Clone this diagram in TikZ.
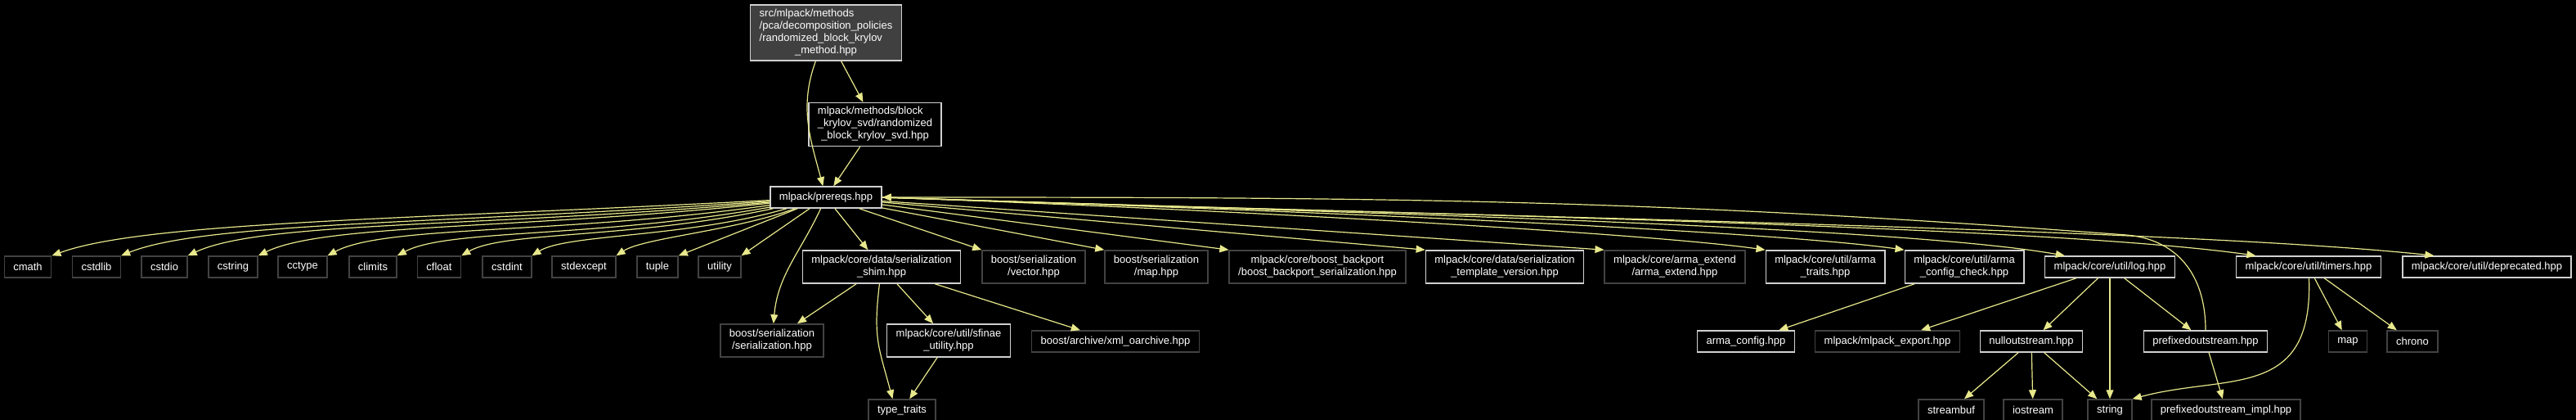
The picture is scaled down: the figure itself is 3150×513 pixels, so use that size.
\documentclass[tikz,border=0pt]{standalone}
\usepackage{fontspec}
\setmainfont{Liberation Sans}
\usepackage{xcolor}
\usetikzlibrary{arrows.meta}
\definecolor{edgecol}{HTML}{E8E88C}
\definecolor{rootfill}{HTML}{404040}
\definecolor{docline}{HTML}{D0D0D0}
\definecolor{extline}{HTML}{424242}

\begin{document}
\begin{tikzpicture}[x=1pt, y=-1pt,
    fnode/.style={draw=docline, line width=1.5pt, fill=black, text=white, inner xsep=11pt,
                  inner ysep=6.5pt, minimum height=26pt, align=center,
                  font=\fontsize{13}{15}\selectfont},
    ext/.style={fnode, draw=extline},
    root/.style={fnode, fill=rootfill, inner ysep=4pt},
    edge/.style={-{Triangle[length=11pt, width=9pt]}, draw=edgecol, line width=1.2pt}
  ]
  \useasboundingbox[fill=black] (0,0) rectangle (3150,513);

  % ---------------- top of the graph ----------------
  \node[root] (top) at (1010,40)
    {\begin{tabular}{@{}l@{}}src/mlpack/methods\\/pca/decomposition\_policies\\/randomized\_block\_krylov\\\multicolumn{1}{@{}c@{}}{\_method.hpp}\end{tabular}};
  \node[fnode, inner ysep=4pt] (svd) at (1070,152)
    {\begin{tabular}{@{}l@{}}mlpack/methods/block\\\_krylov\_svd/randomized\\\multicolumn{1}{@{}c@{}}{\_block\_krylov\_svd.hpp}\end{tabular}};
  \node[fnode] (pre) at (1010,241) {mlpack/prereqs.hpp};

  \draw[edge] (top) to[out=-110, in=105] (pre);
  \draw[edge] (top) -- (svd);
  \draw[edge] (svd) -- (pre);

  % ---------------- first row ----------------
  \node[ext]   (cmath)     at (34,326)   {cmath};
  \node[ext]   (cstdlib)   at (118,326)  {cstdlib};
  \node[ext]   (cstdio)    at (201,326)  {cstdio};
  \node[ext]   (cstring)   at (285,326)  {cstring};
  \node[ext]   (cctype)    at (370,326)  {cctype};
  \node[ext]   (climits)   at (456,326)  {climits};
  \node[ext]   (cfloat)    at (537,326)  {cfloat};
  \node[ext]   (cstdint)   at (620,326)  {cstdint};
  \node[ext]   (stdexc)    at (714,326)  {stdexcept};
  \node[ext]   (tuple)     at (804,326)  {tuple};
  \node[ext]   (utility)   at (880,326)  {utility};
  \node[fnode] (shim)      at (1078,326) {mlpack/core/data/serialization\\\_shim.hpp};
  \node[ext]   (bvec)      at (1264,326) {boost/serialization\\/vector.hpp};
  \node[ext]   (bmap)      at (1414,326) {boost/serialization\\/map.hpp};
  \node[ext]   (backport)  at (1611,326) {mlpack/core/boost\_backport\\/boost\_backport\_serialization.hpp};
  \node[fnode] (tmplver)   at (1840,326) {mlpack/core/data/serialization\\\_template\_version.hpp};
  \node[ext]   (armaext)   at (2048,326) {mlpack/core/arma\_extend\\/arma\_extend.hpp};
  \node[fnode] (armatr)    at (2232,326) {mlpack/core/util/arma\\\_traits.hpp};
  \node[fnode] (armachk)   at (2402,326) {mlpack/core/util/arma\\\_config\_check.hpp};
  \node[fnode] (log)       at (2580,326) {mlpack/core/util/log.hpp};
  \node[fnode] (timers)    at (2823,326) {mlpack/core/util/timers.hpp};
  \node[fnode] (deprec)    at (3041,326) {mlpack/core/util/deprecated.hpp};

  % ---------------- lower rows ----------------
  \node[ext]   (bser)      at (944,416)  {boost/serialization\\/serialization.hpp};
  \node[fnode] (sfinae)    at (1160,416) {mlpack/core/util/sfinae\\\_utility.hpp};
  \node[ext]   (xmlarch)   at (1364,417) {boost/archive/xml\_oarchive.hpp};
  \node[ext]   (typetr)    at (1103,501) {type\_traits};
  \node[fnode] (armacfg)   at (2135,417) {arma\_config.hpp};
  \node[ext]   (mlexp)     at (2308,417) {mlpack/mlpack\_export.hpp};
  \node[fnode] (nullout)   at (2484,417) {nulloutstream.hpp};
  \node[fnode] (pfxout)    at (2697,417) {prefixedoutstream.hpp};
  \node[ext]   (smap)      at (2871,417) {map};
  \node[ext]   (chrono)    at (2950,417) {chrono};
  \node[ext]   (streambuf) at (2386,501) {streambuf};
  \node[ext]   (iostream)  at (2486,501) {iostream};
  \node[ext]   (string)    at (2580,501) {string};
  \node[ext]   (pfximpl)   at (2722,501) {prefixedoutstream\_impl.hpp};

  % prereqs, left fan
  \draw[edge] (pre) to[out=183, in=20, out distance=450pt, in distance=120pt] (cmath.north east);
  \draw[edge] (pre) to[out=184, in=22, out distance=400pt, in distance=110pt] (cstdlib.north east);
  \draw[edge] (pre) to[out=185, in=25, out distance=360pt, in distance=100pt] (cstdio.north east);
  \draw[edge] (pre) to[out=186, in=26, out distance=310pt, in distance=90pt] (cstring.north east);
  \draw[edge] (pre) to[out=188, in=28, out distance=260pt, in distance=80pt] (cctype.north east);
  \draw[edge] (pre) to[out=190, in=28, out distance=220pt, in distance=70pt] (climits.north east);
  \draw[edge] (pre) to[out=192, in=30, out distance=180pt, in distance=60pt] (cfloat.north east);
  \draw[edge] (pre) to[out=196, in=32, out distance=130pt, in distance=50pt] (cstdint.north east);
  \draw[edge] (pre) to[out=200, in=33, out distance=80pt, in distance=40pt] (stdexc.north east);
  \draw[edge] (pre) -- (tuple.north east);
  \draw[edge] (pre) -- (utility.north east);
  \draw[edge] (pre) to[out=-115, in=85] (bser);

  % prereqs, right fan
  \draw[edge] (pre) -- (shim);
  \draw[edge] (pre) -- (bvec.north west);
  \draw[edge] (pre) -- (bmap.north west);
  \draw[edge] (pre) -- (backport.north west);
  \draw[edge] (pre) -- (tmplver.north west);
  \draw[edge] (pre) -- (armaext.north west);
  \draw[edge] (pre.east) .. controls +(400,14) and +(-150,-21) .. (armatr.north west);
  \draw[edge] (pre.east) .. controls +(450,14) and +(-180,-25) .. (armachk.north west);
  \draw[edge] (pre.east) .. controls +(500,17) and +(-217,-38) .. (log.166);
  \draw[edge] (pre.east) .. controls +(550,19) and +(-277,-39) .. (timers.168);
  \draw[edge] (pre.east) .. controls +(600,21) and +(-328,-35) .. (deprec.168);

  % serialization shim
  \draw[edge] (shim) -- (bser);
  \draw[edge] (shim) to[out=-97, in=105, looseness=1.2] (typetr.130);
  \draw[edge] (shim) -- (sfinae);
  \draw[edge] (shim) -- (xmlarch);
  \draw[edge] (sfinae) -- (typetr);

  % util headers
  \draw[edge] (armachk) -- (armacfg);
  \draw[edge] (log) -- (mlexp);
  \draw[edge] (log) -- (nullout);
  \draw[edge] (log) -- (string);
  \draw[edge] (log) -- (pfxout);
  \draw[edge] (nullout) -- (streambuf);
  \draw[edge] (nullout) -- (iostream);
  \draw[edge] (nullout) -- (string);
  \draw[edge] (pfxout) -- (pfximpl);
  \coordinate (pfxbend) at (2600,287);
  \draw[edge] (pfxout.north) .. controls +(0,-70) and +(60,5) .. (pfxbend)
    .. controls +(-600,-45) and +(600,0) .. (pre.east);
  \draw[edge] (timers) -- (smap);
  \draw[edge] (timers) -- (chrono);
  \draw[edge] (timers) to[out=-88, in=15, out distance=150pt, in distance=120pt] (string.north east);
\end{tikzpicture}
\end{document}
